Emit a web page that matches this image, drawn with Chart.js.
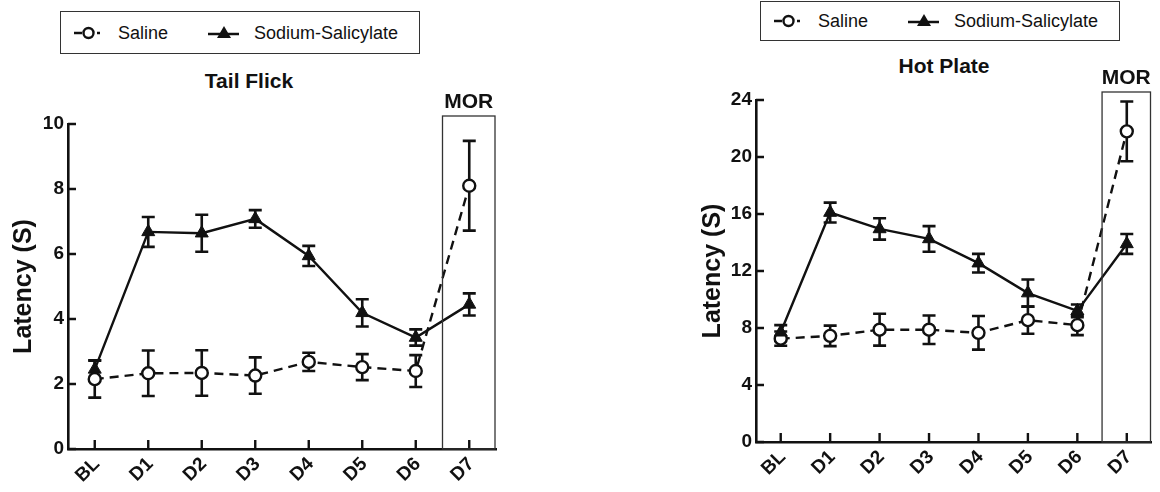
<!DOCTYPE html>
<html>
<head>
<meta charset="utf-8">
<script src="https://cdn.jsdelivr.net/npm/chart.js@4/dist/chart.umd.min.js"></script>
<style>
  html, body { margin:0; padding:0; background:#fff; }
  body { width:1160px; height:492px; position:relative; overflow:hidden; font-family:"Liberation Sans", Arial, sans-serif; }
  .cv { position:absolute; top:0; }
  .legend { position:absolute; border:1.5px solid #333; box-sizing:border-box; width:360px; background:#fff; }
  .legend svg { position:absolute; top:50%; transform:translateY(-50%); }
  .legend span { position:absolute; top:50%; transform:translateY(-50%); font-size:18px; color:#111; white-space:nowrap; }
  .ttl { position:absolute; font-weight:bold; font-size:21px; color:#111; transform:translate(-50%,-50%); white-space:nowrap; }
</style>
</head>
<body>
<div class="legend" style="left:60px; top:11px; height:43px;">
  <svg width="32" height="16" style="left:12px;"><line x1="1" y1="8" x2="9" y2="8" stroke="#111" stroke-width="2.5"/><circle cx="15.5" cy="8" r="5" fill="#fff" stroke="#111" stroke-width="2.4"/><line x1="24" y1="8" x2="27" y2="8" stroke="#111" stroke-width="2.5"/></svg>
  <span style="left:57px;">Saline</span>
  <svg width="32" height="16" style="left:147px;"><line x1="0" y1="9" x2="31" y2="9" stroke="#111" stroke-width="2.5"/><polygon points="16,1 23,13 9,13" fill="#111"/></svg>
  <span style="left:193px;">Sodium-Salicylate</span>
</div>
<div class="legend" style="left:760px; top:1px; height:40px;">
  <svg width="32" height="16" style="left:12px;"><line x1="1" y1="8" x2="9" y2="8" stroke="#111" stroke-width="2.5"/><circle cx="15.5" cy="8" r="5" fill="#fff" stroke="#111" stroke-width="2.4"/><line x1="24" y1="8" x2="27" y2="8" stroke="#111" stroke-width="2.5"/></svg>
  <span style="left:57px;">Saline</span>
  <svg width="32" height="16" style="left:147px;"><line x1="0" y1="9" x2="31" y2="9" stroke="#111" stroke-width="2.5"/><polygon points="16,1 23,13 9,13" fill="#111"/></svg>
  <span style="left:193px;">Sodium-Salicylate</span>
</div>
<div class="ttl" style="left:249px; top:81px;">Tail Flick</div>
<div class="ttl" style="left:944px; top:66px;">Hot Plate</div>

<canvas id="c1" class="cv" width="520" height="492" style="left:0px;"></canvas>
<canvas id="c2" class="cv" width="470" height="492" style="left:690px;"></canvas>

<script>
// ---- data ----
const categories = ['BL','D1','D2','D3','D4','D5','D6','D7'];
const seriesNames = ['Saline','Sodium-Salicylate'];
const boxLabel = 'MOR';

// Tail Flick (latency, s)
const tfSaline    = [2.15, 2.33, 2.34, 2.26, 2.68, 2.52, 2.40, 8.10];
const tfSalineErr = [0.57, 0.70, 0.70, 0.56, 0.28, 0.40, 0.49, 1.38];
const tfSodium    = [2.45, 6.68, 6.64, 7.08, 5.94, 4.19, 3.43, 4.45];
const tfSodiumErr = [0.28, 0.46, 0.57, 0.27, 0.31, 0.42, 0.25, 0.34];
const tfTicks     = [0, 2, 4, 6, 8, 10];

// Hot Plate (latency, s)
const hpSaline    = [7.25, 7.45, 7.88, 7.88, 7.66, 8.55, 8.20, 21.8];
const hpSalineErr = [0.50, 0.72, 1.12, 1.00, 1.18, 0.95, 0.70, 2.10];
const hpSodium    = [7.70, 16.10, 14.95, 14.25, 12.55, 10.45, 9.20, 13.90];
const hpSodiumErr = [0.50, 0.70, 0.75, 0.90, 0.65, 0.95, 0.45, 0.70];
const hpTicks     = [0, 4, 8, 12, 16, 20, 24];

const FONT = '"Liberation Sans", Arial, sans-serif';
const INK = '#111';

// error bars, drawn under the markers
const errorBarPlugin = {
  id: 'errbars',
  beforeDatasetsDraw(chart) {
    const ctx = chart.ctx, ys = chart.scales.y;
    ctx.save();
    ctx.strokeStyle = INK; ctx.lineWidth = 2.6; ctx.setLineDash([]);
    chart.data.datasets.forEach((ds, i) => {
      const meta = chart.getDatasetMeta(i);
      meta.data.forEach((pt, j) => {
        const v = ds.data[j], e = ds.errors[j];
        const yt = ys.getPixelForValue(v + e), yb = ys.getPixelForValue(v - e);
        const x = pt.x, hw = 6.5;
        ctx.beginPath();
        ctx.moveTo(x, yt); ctx.lineTo(x, yb);
        ctx.moveTo(x - hw, yt); ctx.lineTo(x + hw, yt);
        ctx.moveTo(x - hw, yb); ctx.lineTo(x + hw, yb);
        ctx.stroke();
      });
    });
    ctx.restore();
  }
};

// inward tick marks + MOR box
const framePlugin = {
  id: 'frame',
  afterDraw(chart) {
    const ctx = chart.ctx, xs = chart.scales.x, ys = chart.scales.y, ca = chart.chartArea;
    ctx.save();
    ctx.strokeStyle = INK; ctx.lineWidth = 2.4; ctx.setLineDash([]);
    ctx.beginPath();
    ys.ticks.forEach((t, i) => {
      const y = ys.getPixelForTick(i);
      ctx.moveTo(ca.left, y); ctx.lineTo(ca.left + 8, y);
    });
    xs.ticks.forEach((t, i) => {
      const x = xs.getPixelForTick(i);
      ctx.moveTo(x, ca.bottom); ctx.lineTo(x, ca.bottom - 9);
    });
    ctx.stroke();
    // MOR box between last two categories
    const n = categories.length;
    const bx = (xs.getPixelForTick(n - 2) + xs.getPixelForTick(n - 1)) / 2;
    const br = ca.right - 1;
    const bt = ca.top - 8;
    ctx.strokeStyle = '#333'; ctx.lineWidth = 1.3;
    ctx.strokeRect(bx, bt, br - bx, ca.bottom - bt);
    ctx.fillStyle = INK;
    ctx.font = 'bold 21px ' + FONT;
    ctx.textAlign = 'center'; ctx.textBaseline = 'bottom';
    ctx.fillText(boxLabel, (bx + br) / 2, bt - 3);
    ctx.restore();
  }
};

function makeChart(id, saline, salineErr, sodium, sodiumErr, ticks, geo) {
  const step = ticks[1] - ticks[0];
  return new Chart(document.getElementById(id), {
    type: 'line',
    data: {
      labels: categories,
      datasets: [
        {
          label: seriesNames[1], data: sodium, errors: sodiumErr, order: 0,
          borderColor: INK, borderWidth: 2.4, backgroundColor: INK,
          pointStyle: 'triangle', pointRadius: 7.5, pointBorderWidth: 1,
          pointBackgroundColor: INK, pointBorderColor: INK, tension: 0
        },
        {
          label: seriesNames[0], data: saline, errors: salineErr, order: 1,
          borderColor: INK, borderWidth: 2.4, borderDash: [9, 6],
          pointStyle: 'circle', pointRadius: 6, pointBorderWidth: 2.4,
          pointBackgroundColor: '#fff', pointBorderColor: INK, tension: 0
        }
      ]
    },
    options: {
      responsive: false, animation: false, devicePixelRatio: 1,
      layout: { padding: { left: 0, right: geo.padRight, top: geo.top, bottom: 0 } },
      plugins: { legend: { display: false }, tooltip: { enabled: false } },
      scales: {
        x: {
          type: 'category', offset: true,
          grid: { display: false, drawTicks: false, offset: false },
          border: { display: true, color: INK, width: 2.6 },
          ticks: { color: INK, font: { family: FONT, size: 19, weight: 'bold' },
                   minRotation: 45, maxRotation: 45, padding: 4, labelOffset: 2, autoSkip: false },
          afterFit: s => { s.height = geo.xh; }
        },
        y: {
          min: ticks[0], max: ticks[ticks.length - 1],
          grid: { display: false, drawTicks: false },
          border: { display: true, color: INK, width: 2.6 },
          ticks: { stepSize: step, color: INK, padding: 4,
                   font: { family: FONT, size: 19, weight: 'bold' } },
          title: { display: true, text: 'Latency (S)', color: INK,
                   font: { family: FONT, size: 25, weight: 'bold' },
                   padding: { top: geo.titlePad, bottom: 0 } },
          afterFit: s => { s.width = geo.yw; }
        }
      }
    },
    plugins: [errorBarPlugin, framePlugin]
  });
}

makeChart('c1', tfSaline, tfSalineErr, tfSodium, tfSodiumErr, tfTicks,
  { yw: 68, xh: 43, top: 124, padRight: 24, titlePad: 9 });
makeChart('c2', hpSaline, hpSalineErr, hpSodium, hpSodiumErr, hpTicks,
  { yw: 66, xh: 50, top: 100, padRight: 1, titlePad: 8 });
</script>
</body>
</html>
